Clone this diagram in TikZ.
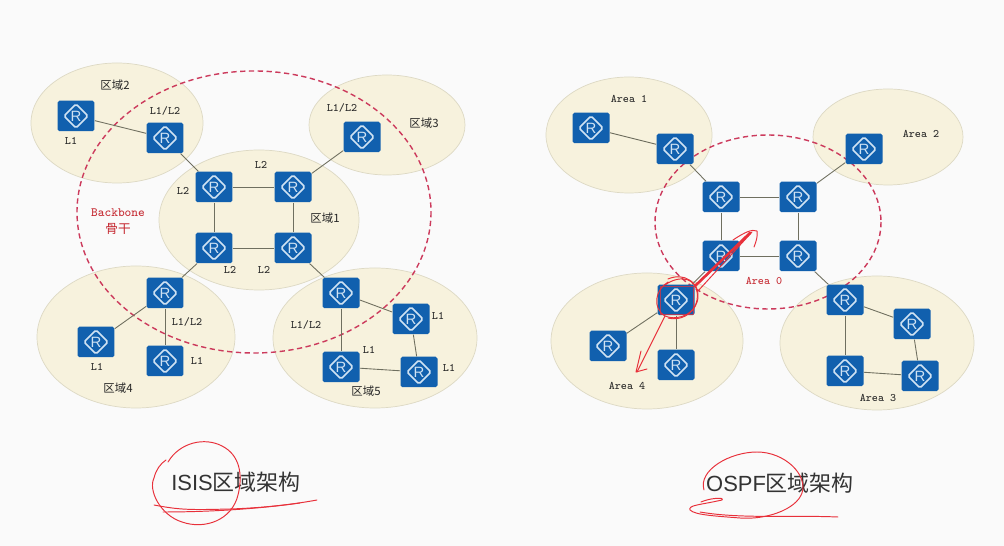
\documentclass[tikz,border=0pt]{standalone}
\usepackage{fontspec}
\usepackage{xcolor}
\newfontfamily\cjk{Noto Sans CJK SC}
\setmainfont{Liberation Sans}
\usetikzlibrary{arrows.meta,calc}
\definecolor{pageGray}{HTML}{FAFAFA}
\definecolor{areaCream}{HTML}{F7F2DD}
\definecolor{areaEdge}{HTML}{DDD9C4}
\definecolor{routerBlue}{HTML}{1160AE}
\definecolor{routerPale}{HTML}{CFE2F3}
\definecolor{linkGray}{HTML}{6F6F5F}
\definecolor{dashRed}{HTML}{CC3A5C}
\definecolor{inkRed}{HTML}{E8303A}
\tikzset{
  area/.style={fill=areaCream, draw=areaEdge, line width=0.4pt},
  backbone/.style={draw=dashRed, dash pattern=on 3pt off 2pt, line width=0.8pt},
  router/.style={fill=routerBlue, rounded corners=1pt, minimum width=0.74cm, minimum height=0.61cm,
    inner sep=0pt, text=routerPale, font=\fontsize{8.5}{9}\selectfont,
    path picture={\draw[routerPale, line width=0.9pt]
      ([shift={(-12,0)}]path picture bounding box.center) -- ([shift={(0,-12)}]path picture bounding box.center)
      -- ([shift={(12,0)}]path picture bounding box.center) -- ([shift={(0,12)}]path picture bounding box.center) -- cycle;}},
  link/.style={draw=linkGray, line width=0.5pt},
  lbl/.style={inner sep=0pt, text=black!85, font=\ttfamily\fontsize{6.5}{7}\selectfont},
  arealbl/.style={inner sep=0pt, text=black!85, font=\cjk\fontsize{6.5}{7}\selectfont},
  redlbl/.style={inner sep=0pt, text=inkRed!85!black, font=\ttfamily\fontsize{7.2}{8}\selectfont},
  titlelbl/.style={inner sep=0pt, text=black!80, font=\fontsize{12.5}{14}\selectfont},
  ink/.style={draw=inkRed, line width=0.55pt, line cap=round, line join=round},
}
\begin{document}
\begin{tikzpicture}[x=0.02cm, y=-0.02cm]
\fill[pageGray] (0,0) rectangle (1004,546);
\useasboundingbox (0,0) rectangle (1004,546);
% ISIS areas
\draw[area] (117,123) ellipse [x radius=86, y radius=60];
\draw[area] (387,125) ellipse [x radius=78, y radius=50];
\draw[area] (259,220) ellipse [x radius=100, y radius=70];
\draw[area] (136,337) ellipse [x radius=99, y radius=71];
\draw[area] (375,338) ellipse [x radius=102, y radius=70];
\draw[backbone] (254,212) ellipse [x radius=177, y radius=141];
% OSPF areas
\draw[area] (629,135) ellipse [x radius=83, y radius=58];
\draw[area] (888,137) ellipse [x radius=75, y radius=48];
\draw[area] (647,341) ellipse [x radius=96, y radius=68];
\draw[area] (877,343) ellipse [x radius=97, y radius=67];
\draw[backbone] (768,222) ellipse [x radius=113, y radius=87];
% routers
\foreach \name/\x/\y in {isA/76/116, isB/165/138, isC/214/187, isD/293/187, isE/214/248, isF/293/248,
    isG/362/137, isH/165/293, isI/96/342, isJ/165/361, isK/341/293, isL/411/319, isM/341/367, isN/419/372,
    osA/591/128, osB/675/149, osC/721/197, osD/798/197, osE/721/256, osF/798/256,
    osG/864/149, osH/676/300, osI/608/346, osJ/676/365, osK/845/300, osL/912/324, osM/845/371, osN/920/376}
  \node[router] (\name) at (\x,\y) {R};
% links
\foreach \pre in {is,os}
  \foreach \a/\b in {A/B, B/C, C/D, C/E, D/F, E/F, G/D, E/H, H/I, H/J, F/K, K/L, K/M, L/N, M/N}
    \draw[link] (\pre\a) -- (\pre\b);
% ISIS labels
\node[arealbl] (lblTwo) at (115,85) {区域2};
\node[arealbl] (lblThree) at (424,123) {区域3};
\node[arealbl] (lblOne) at (325,218) {区域1};
\node[arealbl] (lblFour) at (118,388) {区域4};
\node[arealbl] (lblFive) at (366,391) {区域5};
\foreach \i/\x/\y/\t in {a/71/141/L1, b/165/111/L1\slash L2, c/342/108/L1\slash L2, d/261/165/L2, e/183/191/L2,
    f/230/270/L2, g/264/270/L2, h/187/322/L1\slash L2, k/97/367/L1, m/197/361/L1,
    n/306/325/L1\slash L2, p/369/350/L1, q/438/316/L1, r/449/368/L1}
  \node[lbl] (lvl\i) at (\x,\y) {\t};
\node[redlbl] (lblBackbone) at (118,213) {Backbone};
\node[redlbl, font=\cjk\fontsize{7.2}{8}\selectfont] (lblGugan) at (118,229) {骨干};
% OSPF labels
\node[lbl] (lblAreaOne) at (629,99) {Area 1};
\node[lbl] (lblAreaTwo) at (921,134) {Area 2};
\node[redlbl, font=\ttfamily\fontsize{6.5}{7}\selectfont] (lblAreaZero) at (764,281) {Area 0};
\node[lbl] (lblAreaFour) at (627,386) {Area 4};
\node[lbl] (lblAreaThree) at (878,398) {Area 3};
% titles
\node[titlelbl] (titleIsis) at (236,482) {ISIS{\cjk 区域架构}};
\node[titlelbl] (titleOspf) at (780,483) {OSPF{\cjk 区域架构}};
% pen marks on the left title
\draw[ink] (168,462) .. controls (180,442) and (205,437) .. (222,446)
  .. controls (240,455) and (243,475) .. (238,495)
  .. controls (232,520) and (205,530) .. (182,522)
  .. controls (160,515) and (148,490) .. (154,478)
  .. controls (156,470) and (160,464) .. (166,460);
\draw[ink] (154,505) .. controls (180,510) and (190,510) .. (230,509)
  .. controls (260,508) and (290,505) .. (317,500);
\draw[ink] (163,512) .. controls (200,512) and (250,510) .. (300,503);
% pen marks on the right title
\draw[ink] (704,490) .. controls (698,470) and (730,452) .. (757,452)
  .. controls (785,452) and (808,475) .. (802,493)
  .. controls (796,510) and (765,520) .. (740,518)
  .. controls (715,516) and (695,515) .. (690,510)
  .. controls (688,505) and (700,505) .. (722,500)
  .. controls (725,497) and (710,498) .. (701,502);
\draw[ink] (700,512) .. controls (740,519) and (790,515) .. (838,517);
% pen marks on the OSPF border router
\draw[ink] (665,285) .. controls (680,274) and (698,278) .. (698,296)
  .. controls (698,312) and (680,322) .. (665,316) .. controls (652,308) and (655,290) .. (668,282);
\draw[ink] (668,279) .. controls (684,272) and (700,282) .. (697,300)
  .. controls (694,316) and (678,321) .. (668,318);
\draw[ink, line width=0.35pt, opacity=0.7] (660,286) rectangle (693,314);
\draw[ink, line width=1.5pt] (695,286) -- (750,233);
\draw[ink] (698,291) -- (752,232);
\draw[ink] (733,240) .. controls (745,232) and (752,229) .. (757,231) .. controls (758,236) and (756,242) .. (754,247);
\draw[ink] (665,316) -- (637,372);
\draw[ink] (641,351) -- (636,372) -- (647,369);
\end{tikzpicture}
\end{document}
